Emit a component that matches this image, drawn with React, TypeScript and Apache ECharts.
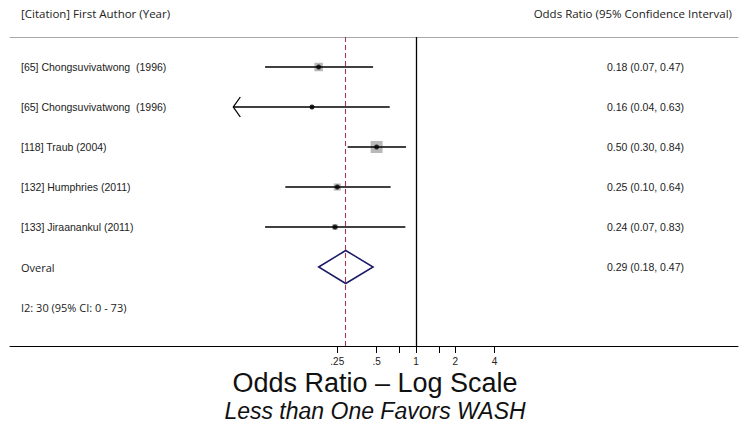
import React, { useEffect, useRef } from "react";
import * as echarts from "echarts";

const studies = [
  "[65] Chongsuvivatwong  (1996)",
  "[65] Chongsuvivatwong  (1996)",
  "[118] Traub (2004)",
  "[132] Humphries (2011)",
  "[133] Jiraanankul (2011)",
];
const oddsRatios = [0.18, 0.16, 0.5, 0.25, 0.24];
const lowerCI = [0.07, 0.04, 0.3, 0.1, 0.07];
const upperCI = [0.47, 0.63, 0.84, 0.64, 0.83];
const weights = [23, 5, 46, 16, 10];
const arrowLeft = [false, true, false, false, false];

const overallLabel = "Overal";
const overallOR = 0.29;
const overallLower = 0.18;
const overallUpper = 0.47;
const heterogeneityText = "I2: 30 (95% CI: 0 - 73)";

const tickValues = [0.25, 0.5, 1, 2, 4];
const tickLabels = [".25", ".5", "1", "2", "4"];
const minorTickValues = [0.75, 1.5];

const leftHeader = "[Citation] First Author (Year)";
const rightHeader = "Odds Ratio (95% Confidence Interval)";
const axisTitle = "Odds Ratio \u2013 Log Scale";
const axisSubtitle = "Less than One Favors WASH";

const log2 = (v: number) => Math.log(v) / Math.LN2;
const fmt = (v: number) => v.toFixed(2);

const leftLabels = [...studies, overallLabel, heterogeneityText];
const rightLabels = [
  ...oddsRatios.map((o, i) => `${fmt(o)} (${fmt(lowerCI[i])}, ${fmt(upperCI[i])})`),
  `${fmt(overallOR)} (${fmt(overallLower)}, ${fmt(overallUpper)})`,
];

const X_MIN = -10.323;
const X_MAX = 8.19;
const Y_MIN = -0.75;
const Y_MAX = 6.975;

export default function App() {
  const ref = useRef<HTMLDivElement>(null);
  useEffect(() => {
    document.body.style.margin = "0";
    const chart = echarts.init(ref.current!, undefined, { renderer: "svg" });
    const labelFont = "'Liberation Sans', Arial, sans-serif";
    const headFont = "'Open Sans', sans-serif";
    const ciData = oddsRatios.map((o, i) => [i, log2(lowerCI[i]), log2(upperCI[i]), log2(o), weights[i], arrowLeft[i] ? 1 : 0]);
    const overallIdx = studies.length;
    chart.setOption({
      animation: false,
      grid: { left: 10, right: 7, top: 37, bottom: 86, outerBoundsMode: "none", containLabel: false },
      xAxis: [
        {
          type: "value",
          min: X_MIN,
          max: X_MAX,
          position: "bottom",
          axisLine: { show: true, onZero: false, lineStyle: { color: "#000", width: 1 } },
          axisTick: {
            show: true,
            length: 7,
            lineStyle: { color: "#000", width: 1 },
            customValues: [...tickValues, ...minorTickValues].map(log2),
          },
          axisLabel: {
            show: true,
            customValues: tickValues.map(log2),
            formatter: (v: number) => {
              const i = tickValues.findIndex((t) => Math.abs(log2(t) - v) < 1e-6);
              return i >= 0 ? tickLabels[i] : "";
            },
            fontSize: 10,
            fontFamily: labelFont,
            color: "#222",
            margin: 10,
          },
          splitLine: { show: false },
        },
        {
          type: "value",
          min: X_MIN,
          max: X_MAX,
          position: "top",
          axisLine: { show: true, onZero: false, lineStyle: { color: "#a8a8a8", width: 1 } },
          axisTick: { show: false },
          axisLabel: { show: false },
          splitLine: { show: false },
        },
      ],
      yAxis: [
        {
          type: "value",
          min: Y_MIN,
          max: Y_MAX,
          inverse: true,
          position: "left",
          axisLine: { show: false, onZero: false },
          axisTick: { show: false },
          splitLine: { show: false },
          axisLabel: {
            inside: true,
            margin: 11,
            customValues: leftLabels.map((_, i) => i),
            formatter: (v: number) => {
              const i = Math.round(v);
              const t = leftLabels[i] ?? "";
              return i >= studies.length ? `{h|${t}}` : t;
            },
            fontSize: 10.5,
            fontFamily: labelFont,
            color: "#222",
            rich: { h: { fontSize: 11, fontFamily: headFont, color: "#222" } },
          },
        },
        {
          type: "value",
          min: Y_MIN,
          max: Y_MAX,
          inverse: true,
          position: "right",
          axisLine: { show: false, onZero: false },
          axisTick: { show: false },
          splitLine: { show: false },
          axisLabel: {
            inside: true,
            margin: 54,
            customValues: rightLabels.map((_, i) => i),
            formatter: (v: number) => rightLabels[Math.round(v)] ?? "",
            fontSize: 10.5,
            fontFamily: labelFont,
            color: "#222",
          },
        },
      ],
      series: [
        {
          type: "custom",
          xAxisIndex: 0,
          yAxisIndex: 0,
          data: ciData,
          renderItem: (params: any, api: any) => {
            const row = api.value(0);
            const lo = api.coord([api.value(1), row]);
            const hi = api.coord([api.value(2), row]);
            const est = api.coord([api.value(3), row]);
            const size = 1.77 * Math.sqrt(api.value(4));
            const children: any[] = [
              {
                type: "rect",
                shape: { x: est[0] - size / 2, y: est[1] - size / 2, width: size, height: size },
                style: { fill: "#b8b8b8" },
              },
              {
                type: "line",
                shape: { x1: lo[0], y1: lo[1], x2: hi[0], y2: hi[1] },
                style: { stroke: "#000", lineWidth: 1.5 },
              },
            ];
            if (api.value(5)) {
              children.push({
                type: "polyline",
                shape: { points: [[lo[0] + 7, lo[1] - 10], [lo[0], lo[1]], [lo[0] + 7, lo[1] + 10]] },
                style: { stroke: "#000", lineWidth: 1.3, fill: "none" },
              });
            }
            return { type: "group", children };
          },
          z: 2,
        },
        {
          type: "scatter",
          xAxisIndex: 0,
          yAxisIndex: 0,
          data: oddsRatios.map((o, i) => [log2(o), i]),
          symbol: "circle",
          symbolSize: 5,
          itemStyle: { color: "#000" },
          z: 3,
          markLine: {
            silent: true,
            symbol: "none",
            label: { show: false },
            data: [
              { xAxis: log2(1), lineStyle: { color: "#000", type: "solid", width: 1.3 } },
              { xAxis: log2(overallOR), lineStyle: { color: "#a3394f", type: [5, 3], width: 1.1 } },
            ],
          },
        },
        {
          type: "custom",
          xAxisIndex: 0,
          yAxisIndex: 0,
          data: [[overallIdx, log2(overallLower), log2(overallOR), log2(overallUpper)]],
          renderItem: (params: any, api: any) => {
            const row = api.value(0);
            const l = api.coord([api.value(1), row]);
            const c = api.coord([api.value(2), row]);
            const r = api.coord([api.value(3), row]);
            const h = 16.5;
            return {
              type: "polygon",
              shape: { points: [[l[0], l[1]], [c[0], c[1] - h], [r[0], r[1]], [c[0], c[1] + h]] },
              style: { stroke: "#1a1a66", lineWidth: 1.5, fill: "none" },
            };
          },
          z: 4,
        },
      ],
      graphic: [
        {
          type: "text",
          x: 21,
          y: 13,
          style: { text: leftHeader, font: `11.5px ${headFont}`, fill: "#222", textAlign: "left", textVerticalAlign: "middle" },
        },
        {
          type: "text",
          x: 732,
          y: 13,
          style: { text: rightHeader, font: `11.5px ${headFont}`, fill: "#222", textAlign: "right", textVerticalAlign: "middle" },
        },
        {
          type: "text",
          x: 375,
          y: 383,
          style: { text: axisTitle, font: `27px ${labelFont}`, fill: "#111", textAlign: "center", textVerticalAlign: "middle" },
        },
        {
          type: "text",
          x: 375,
          y: 411,
          style: { text: axisSubtitle, font: `italic 23px ${labelFont}`, fill: "#111", textAlign: "center", textVerticalAlign: "middle" },
        },
      ],
    });
    return () => chart.dispose();
  }, []);
  return <div ref={ref} style={{ width: 745, height: 432 }} />;
}
